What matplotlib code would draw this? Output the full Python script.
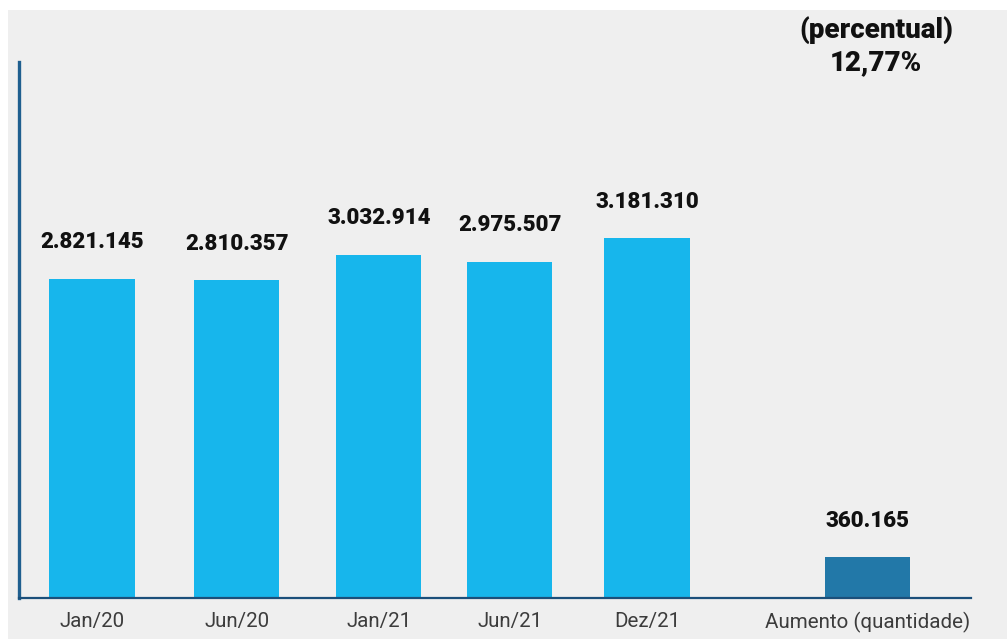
import matplotlib
matplotlib.use("Agg")
import matplotlib.pyplot as plt
from matplotlib.patches import Rectangle

categories = ["Jan/20", "Jun/20", "Jan/21", "Jun/21", "Dez/21", "Aumento (quantidade)"]
values = [2821145, 2810357, 3032914, 2975507, 3181310, 360165]
value_labels = ["2.821.145", "2.810.357", "3.032.914", "2.975.507", "3.181.310", "360.165"]
positions = [0, 1.048, 2.075, 3.022, 4.013, 5.61]
bar_colors = ["#17b6ec", "#17b6ec", "#17b6ec", "#17b6ec", "#17b6ec", "#2278a8"]
title_lines = ["(percentual)", "12,77%"]

W, H = 1007, 639
fig = plt.figure(figsize=(W / 100, H / 100), dpi=100)
fig.patch.set_facecolor("white")
# grey panel background
fig.patches.append(Rectangle((8 / W, 0), 1 - 8 / W, (H - 10) / H, transform=fig.transFigure,
                             facecolor="#efefef", edgecolor="none", zorder=-5))

ax = fig.add_axes([19 / W, 41 / H, (971 - 19) / W, (598 - 62) / H])
ax.set_facecolor("none")
ax.bar(positions, values, width=0.615, color=bar_colors, zorder=2)
ax.set_xlim(-0.528, 6.356)
ax.set_ylim(0, 4.74e6)

for x, v, lab in zip(positions, values, value_labels):
    ax.annotate(lab, (x, v), xytext=(0, 22), textcoords="offset points",
                ha="center", va="baseline", fontsize=16, fontweight="heavy",
                family="Roboto", color="#111111")

ax.set_xticks(positions)
ax.set_xticklabels(categories, fontsize=14.8, family="Roboto", color="#3c3c3c")
ax.tick_params(axis="x", length=0, pad=10)
ax.set_yticks([])
for s in ["top", "right"]:
    ax.spines[s].set_visible(False)
ax.spines["left"].set_color("#1f5f8f")
ax.spines["left"].set_linewidth(2.4)
ax.spines["bottom"].set_color("#1b4f7a")
ax.spines["bottom"].set_linewidth(1.6)
ax.spines["bottom"].set_zorder(3)

# top-right annotation
cx = 876 / W
for line, yc in zip(title_lines, [30, 63]):
    fig.text(cx, 1 - yc / H, line, ha="center", va="center", fontsize=20,
             fontweight="heavy", family="Roboto", color="#111111")

fig.savefig("out.png", dpi=100)
